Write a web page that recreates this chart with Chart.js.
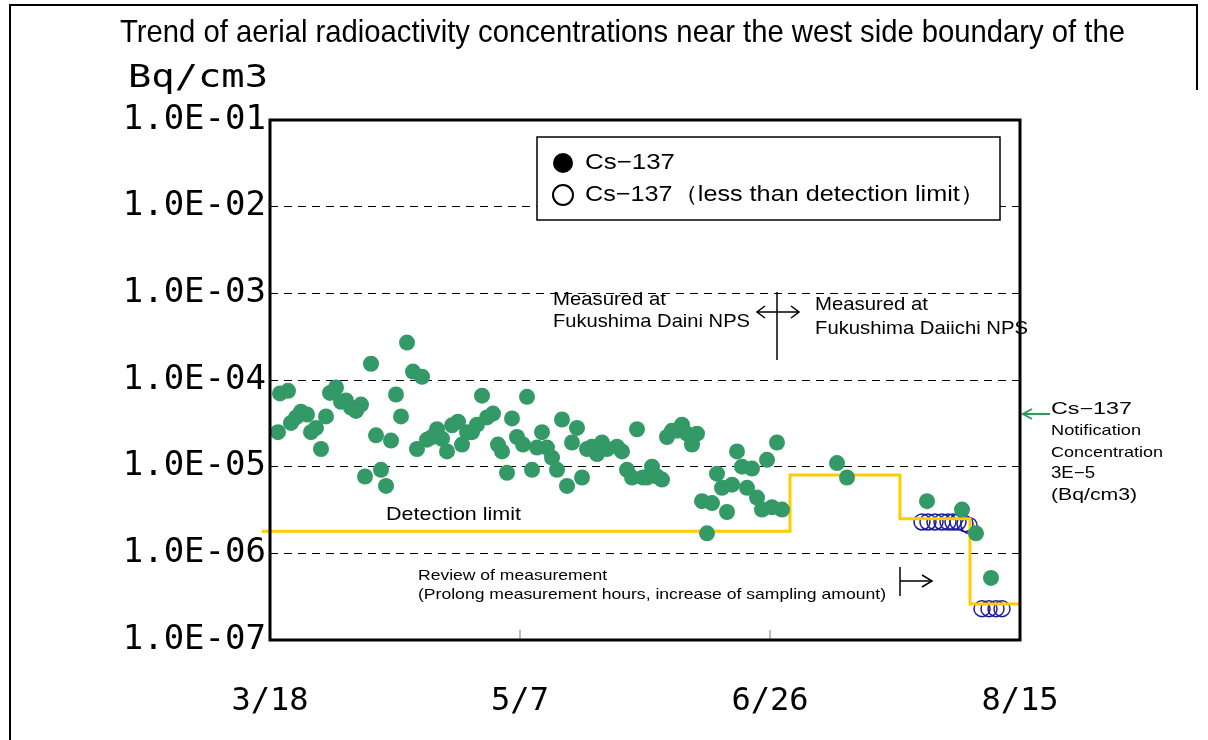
<!DOCTYPE html>
<html>
<head>
<meta charset="utf-8">
<script src="https://cdn.jsdelivr.net/npm/chart.js@4"></script>
<style>
   body { margin: 0; background: #fff; }
   canvas { display: block; }
</style>
</head>
<body>
<canvas id="trend" width="1208" height="740"></canvas>
<script>
// days counted from 3/18
const xTickDays = [0, 50, 100, 150];
const xTickLabels = ['3/18', '5/7', '6/26', '8/15'];
const yTickValues = [1e-7, 1e-6, 1e-5, 1e-4, 1e-3, 1e-2, 1e-1];
const yTickLabels = ['1.0E-07', '1.0E-06', '1.0E-05', '1.0E-04', '1.0E-03', '1.0E-02', '1.0E-01'];

// Cs-137 measured (Bq/cm3)
const csDays = [
   1.6, 2, 3.6, 4.2, 5.2, 6.2, 7.4, 8.2, 9.2, 10.2,
   11.2, 12, 13.2, 14.2, 15.2, 16.2, 17.2, 18.2, 19, 20.2,
   21.2, 22.2, 23.2, 24.2, 25.2, 26.2, 27.4, 28.6, 30.4, 29.4,
   31.4, 32.4, 33.4, 34.4, 35.4, 36.4, 37.6, 38.4, 39.4, 40.4,
   41.4, 42.4, 43.4, 44.6, 45.6, 46.4, 47.4, 48.4, 49.4, 50.6,
   51.4, 52.4, 53.4, 54.4, 55.4, 56.4, 57.4, 58.4, 59.4, 60.4,
   61.4, 62.4, 63.4, 64.4, 65.4, 66.4, 67.4, 69.4, 70.4, 71.4,
   72.4, 73.4, 74.6, 75.4, 76.4, 77.4, 78.4, 79.4, 80.4, 81.4,
   82.4, 83.4, 84.4, 85.4, 86.4, 87.4, 88.4, 89.4, 90.4, 91.4,
   92.4, 93.4, 94.4, 95.4, 96.4, 97.4, 98.4, 99.4, 100.4, 101.4,
   102.4, 113.4, 115.4, 131.4, 138.4, 141.2, 144.2,
];
const csValues = [
   2.5e-5, 7.0e-5, 7.5e-5, 3.2e-5, 3.7e-5, 4.3e-5, 4.0e-5, 2.5e-5, 2.8e-5, 1.6e-5,
   3.8e-5, 7.1e-5, 8.2e-5, 5.6e-5, 5.8e-5, 4.8e-5, 4.4e-5, 5.2e-5, 7.7e-6, 1.54e-4,
   2.3e-5, 9.2e-6, 6.0e-6, 2.0e-5, 6.8e-5, 3.8e-5, 2.7e-4, 1.25e-4, 1.09e-4, 1.6e-5,
   2.05e-5, 2.2e-5, 2.7e-5, 2.1e-5, 1.5e-5, 3.0e-5, 3.3e-5, 1.8e-5, 2.5e-5, 2.5e-5,
   3.05e-5, 6.6e-5, 3.7e-5, 4.1e-5, 1.8e-5, 1.5e-5, 8.5e-6, 3.6e-5, 2.2e-5, 1.8e-5,
   6.4e-5, 9.2e-6, 1.66e-5, 2.5e-5, 1.66e-5, 1.27e-5, 9.2e-6, 3.5e-5, 6.0e-6, 1.9e-5,
   2.8e-5, 7.5e-6, 1.6e-5, 1.7e-5, 1.4e-5, 1.9e-5, 1.6e-5, 1.7e-5, 1.5e-5, 9.2e-6,
   7.5e-6, 2.7e-5, 7.5e-6, 7.5e-6, 1.0e-5, 7.7e-6, 7.1e-6, 2.2e-5, 2.6e-5, 2.6e-5,
   3.05e-5, 2.4e-5, 1.8e-5, 2.4e-5, 4.0e-6, 1.7e-6, 3.8e-6, 8.3e-6, 5.7e-6, 3.0e-6,
   6.2e-6, 1.5e-5, 1.0e-5, 5.7e-6, 9.5e-6, 4.4e-6, 3.2e-6, 1.2e-5, 3.4e-6, 1.9e-5,
   3.2e-6, 1.1e-5, 7.5e-6, 4.0e-6, 3.2e-6, 1.7e-6, 5.2e-7,
];

// Cs-137 less than detection limit
const ndDays = [130.4, 131.6, 133, 134.4, 135.6, 136.6, 137.6, 139, 139.8, 142.4, 143.8, 145.2, 146.4];
const ndValues = [2.3e-6, 2.3e-6, 2.3e-6, 2.3e-6, 2.3e-6, 2.3e-6, 2.3e-6, 2.2e-6, 2.1e-6, 2.3e-7, 2.3e-7, 2.3e-7, 2.3e-7];

// detection limit steps
const detDays = [-1.6, 104, 126, 140, 150];
const detValues = [1.8e-6, 8.0e-6, 2.5e-6, 2.6e-7, 2.6e-7];

const toPoints = (xs, ys) => xs.map((x, i) => ({ x, y: ys[i] }));

const SANS = '"Liberation Sans", Arial, sans-serif';
const MONO = '"DejaVu Sans Mono", "Liberation Mono", monospace';

// text squeezed/stretched to a given width, like the condensed Japanese font
const fitText = (ctx, text, x, y, size, width, family = SANS) => {
   ctx.save();
   ctx.font = `${size}px ${family}`;
   ctx.textAlign = 'left';
   ctx.textBaseline = 'middle';
   const w = ctx.measureText(text).width;
   ctx.translate(x, y);
   if (width) ctx.scale(width / w, 1);
   ctx.fillText(text, 0, 0);
   ctx.restore();
};

const line = (ctx, pts, color = '#000', width = 1.5) => {
   ctx.save();
   ctx.strokeStyle = color;
   ctx.lineWidth = width;
   ctx.beginPath();
   pts.forEach(([x, y], i) => (i ? ctx.lineTo(x, y) : ctx.moveTo(x, y)));
   ctx.stroke();
   ctx.restore();
};

const decorations = {
   id: 'decorations',
   beforeDraw(chart) {
      const { ctx } = chart;
      ctx.save();
      ctx.fillStyle = '#fff';
      ctx.fillRect(0, 0, chart.width, chart.height);
      ctx.restore();
   },
   afterDraw(chart) {
      const { ctx, chartArea: a, scales } = chart;
      ctx.fillStyle = '#000';

      // outer frame
      line(ctx, [[10, 740], [10, 5], [1197, 5], [1197, 90]], '#000', 2);

      fitText(ctx, 'Trend of aerial radioactivity concentrations near the west side boundary of the', 120, 33, 32, 1005);
      fitText(ctx, 'Bq/cm3', 128, 79, 32, 140, MONO);

      // small inner ticks on x axis
      xTickDays.slice(1, -1).forEach((d) => {
         const px = scales.x.getPixelForValue(d);
         line(ctx, [[px, a.bottom], [px, a.bottom - 10]], '#777', 1);
      });

      // legend
      ctx.save();
      ctx.fillStyle = '#fff';
      ctx.fillRect(537, 137, 463, 83);
      ctx.strokeStyle = '#000';
      ctx.lineWidth = 1.5;
      ctx.strokeRect(537, 137, 463, 83);
      ctx.fillStyle = '#000';
      ctx.beginPath();
      ctx.arc(563, 163, 10, 0, Math.PI * 2);
      ctx.fill();
      ctx.lineWidth = 2;
      ctx.beginPath();
      ctx.arc(563, 195, 10, 0, Math.PI * 2);
      ctx.stroke();
      ctx.restore();
      fitText(ctx, 'Cs−137', 585, 163, 22, 90);
      fitText(ctx, 'Cs−137（less than detection limit）', 585, 195, 22, 400);

      // Daini / Daiichi
      fitText(ctx, 'Measured at', 553, 300, 19, 113);
      fitText(ctx, 'Fukushima Daini NPS', 553, 322, 19, 197);
      fitText(ctx, 'Measured at', 815, 305, 19, 113);
      fitText(ctx, 'Fukushima Daiichi NPS', 815, 329, 19, 213);
      line(ctx, [[777, 292], [777, 360]], '#000', 1.5);
      line(ctx, [[757, 312], [799, 312]], '#000', 1.5);
      line(ctx, [[765, 306], [757, 312], [765, 318]], '#000', 1.5);
      line(ctx, [[791, 306], [799, 312], [791, 318]], '#000', 1.5);

      fitText(ctx, 'Detection limit', 386, 515, 19, 135);

      fitText(ctx, 'Review of measurement', 418, 576, 15, 189);
      fitText(ctx, '(Prolong measurement hours, increase of sampling amount)', 418, 595, 15, 468);
      line(ctx, [[900, 567], [900, 596]], '#000', 1.5);
      line(ctx, [[900, 581], [932, 581]], '#000', 1.5);
      line(ctx, [[922, 575], [932, 581], [922, 587]], '#000', 1.5);

      // notification concentration
      line(ctx, [[1050, 414], [1024, 414]], '#2e9a5c', 2);
      line(ctx, [[1032, 409], [1023, 414], [1032, 419]], '#2e9a5c', 2);
      fitText(ctx, 'Cs−137', 1051, 410, 16, 81);
      fitText(ctx, 'Notification', 1051, 431, 15, 90);
      fitText(ctx, 'Concentration', 1051, 453, 15, 112);
      fitText(ctx, '3E−5', 1051, 474, 16, 44);
      fitText(ctx, '(Bq/cm3)', 1051, 496, 16, 86);

      // plot border on top of everything
      ctx.save();
      ctx.strokeStyle = '#000';
      ctx.lineWidth = 3;
      ctx.strokeRect(a.left, a.top, a.right - a.left, a.bottom - a.top);
      ctx.restore();
   },
};

new Chart(document.getElementById('trend'), {
   type: 'scatter',
   data: {
      datasets: [
         {
            label: 'Cs-137',
            data: toPoints(csDays, csValues),
            backgroundColor: '#339966',
            borderWidth: 0,
            pointRadius: 8,
            order: 0,
         },
         {
            label: 'Cs-137(less than detection limit)',
            data: toPoints(ndDays, ndValues),
            backgroundColor: 'rgba(0,0,0,0)',
            borderColor: '#1c1c9c',
            borderWidth: 1.5,
            pointRadius: 8,
            order: 2,
         },
         {
            type: 'line',
            label: 'Detection limit',
            data: toPoints(detDays, detValues),
            borderColor: '#ffcc00',
            borderWidth: 3,
            stepped: 'before',
            pointRadius: 0,
            fill: false,
            clip: false,
            order: 1,
         },
      ],
   },
   options: {
      responsive: false,
      animation: false,
      devicePixelRatio: 1,
      layout: { padding: { left: 0, top: 120, right: 188, bottom: 0 } },
      plugins: { legend: { display: false }, tooltip: { enabled: false } },
      scales: {
         x: {
            type: 'linear',
            min: 0,
            max: 150,
            afterBuildTicks: (scale) => { scale.ticks = xTickDays.map((v) => ({ value: v })); },
            afterFit: (scale) => { scale.height = 100; },
            grid: { display: false },
            border: { display: false },
            ticks: {
               padding: 34,
               color: '#000',
               font: { family: MONO, size: 32 },
               callback: (v, i) => xTickLabels[i],
            },
         },
         y: {
            type: 'logarithmic',
            min: 1e-7,
            max: 1e-1,
            afterBuildTicks: (scale) => { scale.ticks = yTickValues.map((v) => ({ value: v })); },
            afterFit: (scale) => { scale.width = 270; },
            grid: { color: '#000', lineWidth: 1, drawTicks: false },
            border: { display: false, dash: [8, 6] },
            ticks: {
               padding: 4,
               color: '#000',
               font: { family: MONO, size: 34 },
               callback: (v, i) => yTickLabels[i],
            },
         },
      },
   },
   plugins: [decorations],
});
</script>
</body>
</html>
